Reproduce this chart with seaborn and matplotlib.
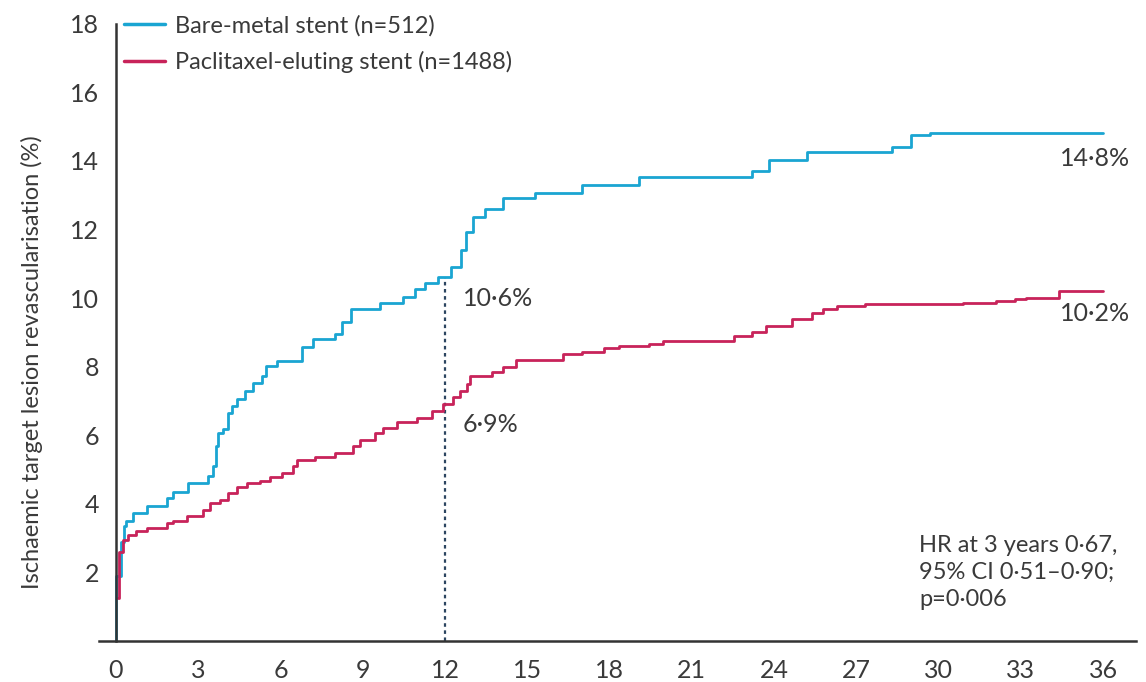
import matplotlib
matplotlib.use("Agg")
import matplotlib.pyplot as plt
import pandas as pd
import seaborn as sns

# Cumulative incidence (%) by month, step-function knots
bms_months = [0, 0.01, 0.18, 0.28, 0.35, 0.63, 1.12, 1.85, 2.09, 2.64, 3.37, 3.55,
              3.65, 3.73, 3.91, 4.10, 4.22, 4.40, 4.70, 5.01, 5.31, 5.49, 5.86,
              6.77, 7.20, 7.99, 8.23, 8.59, 9.63, 10.48, 10.90, 11.27, 11.76,
              12.21, 12.6, 12.75, 13.03, 13.46, 14.1, 15.27, 17.0, 19.07, 23.19,
              23.8, 25.2, 28.3, 29.0, 29.7, 36.0]
bms_values = [0, 1.9, 2.9, 3.35, 3.5, 3.73, 3.95, 4.17, 4.34, 4.61, 4.8, 5.1,
              5.68, 6.07, 6.17, 6.66, 6.85, 7.05, 7.29, 7.53, 7.73, 8.02, 8.17,
              8.56, 8.8, 8.95, 9.29, 9.68, 9.85, 10.02, 10.26, 10.44, 10.6,
              10.9, 11.4, 11.92, 12.36, 12.6, 12.91, 13.06, 13.3, 13.53, 13.7,
              14.02, 14.26, 14.4, 14.75, 14.8, 14.8]

pes_months = [0.08, 0.12, 0.27, 0.45, 0.75, 1.12, 1.85, 2.09, 2.58, 3.19, 3.43,
              3.79, 4.10, 4.40, 4.77, 5.25, 5.62, 6.04, 6.47, 6.59, 7.26, 7.99,
              8.66, 8.90, 9.45, 9.75, 10.24, 10.97, 11.51, 11.94, 12.3, 12.55,
              12.8, 12.9, 13.7, 14.1, 14.6, 16.3, 17.0, 17.8, 18.35, 19.43,
              19.94, 22.54, 23.2, 23.7, 24.65, 25.4, 25.8, 26.3, 27.3, 30.9,
              32.1, 32.8, 33.2, 34.4, 36.0]
pes_values = [1.25, 2.6, 2.95, 3.09, 3.22, 3.3, 3.44, 3.5, 3.63, 3.83, 4.02,
              4.12, 4.32, 4.49, 4.61, 4.67, 4.78, 4.9, 5.1, 5.29, 5.37, 5.49,
              5.68, 5.86, 6.07, 6.22, 6.38, 6.51, 6.7, 6.9, 7.1, 7.3,
              7.5, 7.72, 7.84, 7.98, 8.19, 8.36, 8.43, 8.53, 8.6, 8.66,
              8.75, 8.88, 9.0, 9.17, 9.4, 9.56, 9.67, 9.76, 9.82, 9.86,
              9.92, 9.97, 10.0, 10.2, 10.2]

groups = ["Bare-metal stent (n=512)", "Paclitaxel-eluting stent (n=1488)"]
colors = ["#1aa5d2", "#c8235a"]

landmark_month = 12
landmark_labels = ["10·6%", "6·9%"]
end_labels = ["14·8%", "10·2%"]
stats_text = "HR at 3 years 0·67,\n95% CI 0·51–0·90;\np=0·006"

x_ticks = list(range(0, 37, 3))
y_ticks = list(range(2, 19, 2))

df = pd.concat([
    pd.DataFrame({"month": bms_months, "pct": bms_values, "group": groups[0]}),
    pd.DataFrame({"month": pes_months, "pct": pes_values, "group": groups[1]}),
], ignore_index=True)

sns.set_theme(style="white")
plt.rcParams["font.family"] = ["Lato", "DejaVu Sans"]
text_color = "#3a3a3a"
spine_color = "#333333"

fig = plt.figure(figsize=(11.46, 6.82), dpi=100)
ax = fig.add_axes([0.0868, 0.0601, 0.9045, 0.9053])

sns.lineplot(data=df, x="month", y="pct", hue="group", hue_order=groups,
             palette=colors, drawstyle="steps-post", estimator=None, sort=False,
             linewidth=2.0, ax=ax)

# Landmark at 12 months
bms_at_landmark = bms_values[bms_months.index(11.76)]
ax.plot([landmark_month, landmark_month], [0, bms_at_landmark],
        color="#2c4560", linestyle=(0, (1.6, 1.6)), linewidth=1.6, zorder=1)

ax.set_xlim(-0.6, 37.2)
ax.set_ylim(0, 18)
ax.set_xticks(x_ticks)
ax.set_yticks(y_ticks)
ax.set_xlabel("")
ax.set_ylabel("")

for side in ("top", "right"):
    ax.spines[side].set_visible(False)
ax.spines["left"].set_position(("data", 0))
for side in ("left", "bottom"):
    ax.spines[side].set_color(spine_color)
    ax.spines[side].set_linewidth(1.8)

ax.tick_params(axis="both", direction="out", length=7, width=1.8,
               color=spine_color, labelcolor=text_color, labelsize=18)
ax.tick_params(axis="x", pad=6)
ax.tick_params(axis="y", pad=5)

fig.text(32 / 1146, 1 - 362 / 682,
         "Ischaemic target lesion revascularisation (%)",
         rotation=90, ha="center", va="center", fontsize=17, color=text_color)

ax.text(12.65, 10.0, landmark_labels[0], ha="left", va="center",
        fontsize=18, color=text_color)
ax.text(12.65, 6.3, landmark_labels[1], ha="left", va="center",
        fontsize=18, color=text_color)
ax.text(37.0, 14.08, end_labels[0], ha="right", va="center",
        fontsize=18, color=text_color)
ax.text(37.0, 9.56, end_labels[1], ha="right", va="center",
        fontsize=18, color=text_color)
ax.text(29.3, 2.0, stats_text, ha="left", va="center", fontsize=17,
        color=text_color, linespacing=1.35)

leg = ax.legend(loc="upper left", bbox_to_anchor=(0.015, 1.029), frameon=False,
                fontsize=17, handlelength=1.7, handletextpad=0.45,
                labelspacing=0.6, borderaxespad=0)
for t in leg.get_texts():
    t.set_color(text_color)
for line in leg.get_lines():
    line.set_linewidth(2.5)

fig.savefig("out.png", dpi=100)
